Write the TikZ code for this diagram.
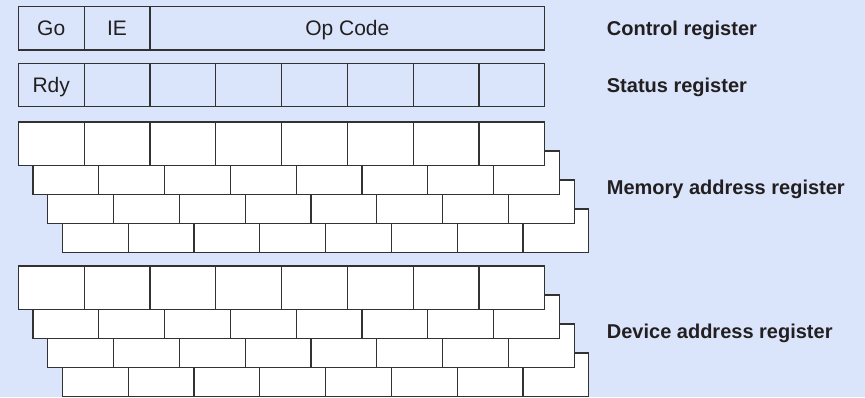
\documentclass[tikz,border=0pt]{standalone}
\usepackage{fontspec}
\setmainfont{Liberation Sans}
\usetikzlibrary{positioning}
\definecolor{regbg}{RGB}{218,229,251}
\definecolor{regline}{RGB}{50,50,50}
\definecolor{regtext}{RGB}{35,31,32}

\begin{document}
\begin{tikzpicture}[x=1pt, y=-1pt, node distance=0pt,
    every node/.style={font=\fontsize{21}{24}\selectfont, text=regtext},
    cell/.style={draw=regline, line width=1.2pt, inner sep=0pt, outer sep=0pt, minimum width=65.8pt, minimum height=43.3pt, text height=15pt, text depth=0pt},
    memcell/.style={cell, fill=white},
    reglabel/.style={anchor=base west, inner sep=0pt, font=\fontsize{20}{24}\selectfont\bfseries}]
    \fill[regbg] (0,0) rectangle (865,397);
    \useasboundingbox (0,0) rectangle (865,397);
    % control register
    \node[cell, anchor=north west] (go) at (18.3,6.7) {Go};
    \node[cell, right=of go] (ie) {IE};
    \node[cell, right=of ie, minimum width=394.8pt] (opcode) {Op Code};
    % status register
    \node[cell, below=13.5pt of go] (s1) {Rdy};
    \foreach \i [count=\k from 1] in {2,...,8}
        \node[cell, right=of s\k] (s\i) {};
    % memory and device address registers, back layer first
    \foreach \reg/\top in {mem/122, dev/266}
        \foreach \l in {4,3,2,1}
            \foreach \c in {1,...,8}
                \node[memcell, anchor=north west] (\reg-\l-\c) at ({18.3+(\l-1)*14.7+(\c-1)*65.8}, {\top+(\l-1)*29}) {};
    % labels
    \node[reglabel] (ctrl) at (606.7,35.2) {Control register};
    \node[reglabel] (stat) at (606.7,92.6) {Status register};
    \node[reglabel] (memlbl) at (606.7,194.4) {Memory address register};
    \node[reglabel] (devlbl) at (606.7,338.6) {Device address register};
\end{tikzpicture}
\end{document}
